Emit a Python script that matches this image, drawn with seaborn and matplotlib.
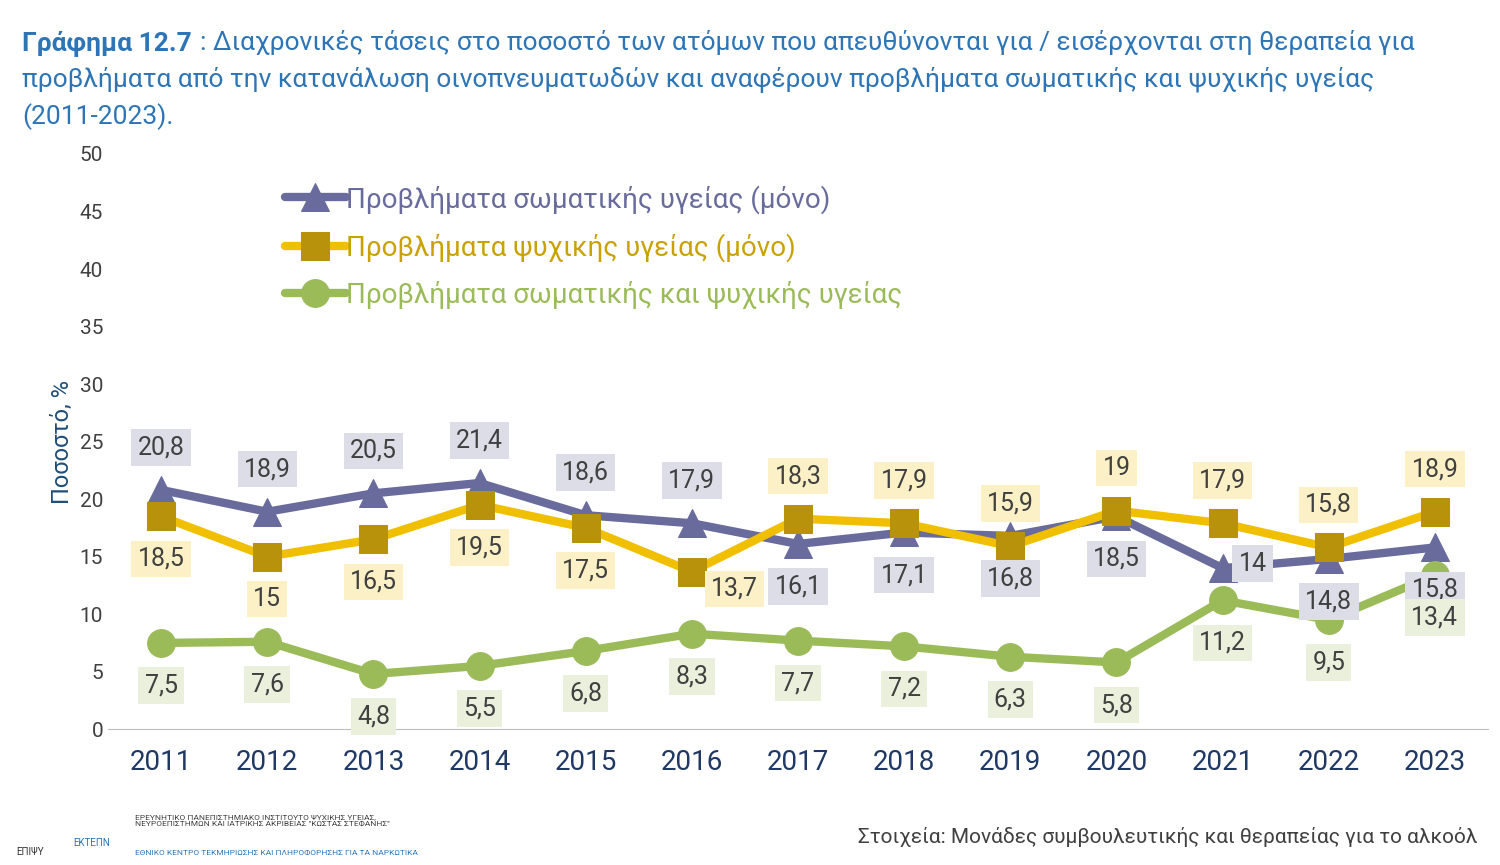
import matplotlib
matplotlib.use('Agg')
import matplotlib.pyplot as plt
import seaborn as sns
import pandas as pd

years = [2011, 2012, 2013, 2014, 2015, 2016, 2017, 2018, 2019, 2020, 2021, 2022, 2023]
physical = [20.8, 18.9, 20.5, 21.4, 18.6, 17.9, 16.1, 17.1, 16.8, 18.5, 14, 14.8, 15.8]
mental = [18.5, 15, 16.5, 19.5, 17.5, 13.7, 18.3, 17.9, 15.9, 19, 17.9, 15.8, 18.9]
both = [7.5, 7.6, 4.8, 5.5, 6.8, 8.3, 7.7, 7.2, 6.3, 5.8, 11.2, 9.5, 13.4]
names = ['Προβλήματα σωματικής υγείας (μόνο)',
         'Προβλήματα ψυχικής υγείας (μόνο)',
         'Προβλήματα σωματικής και ψυχικής υγείας']

sns.set_style('white')
plt.rcParams['font.family'] = ['Roboto', 'DejaVu Sans']

fig = plt.figure(figsize=(15, 8.65), dpi=100)
ax = fig.add_axes([0.072, 0.157, 0.92, 0.665])

x = list(range(len(years)))
series = [
    (physical, '#686b9b', '#686b9b', '^', '#dcdde6'),
    (mental, '#f0c000', '#b8920a', 's', '#fcf1c6'),
    (both, '#9bbb59', '#9bbb59', 'o', '#eaf0dc'),
]
# label placement: 1 above, -1 below, 'r' right of point
phys_pos = [1, 1, 1, 1, 1, 1, -1, -1, -1, -1, 'r', -1, -1]
ment_pos = [-1, -1, -1, -1, -1, 'rb', 1, 1, 1, 1, 1, 1, 1]
both_pos = [-1] * 13
positions = [phys_pos, ment_pos, both_pos]

for (vals, lc, mc, mk, box), name, pos in zip(series, names, positions):
    df = pd.DataFrame({'x': x, 'y': vals})
    sns.lineplot(data=df, x='x', y='y', ax=ax, color=lc, lw=6, marker=mk,
                 markersize=20, markerfacecolor=mc, markeredgecolor=mc, label=name)
    for xi, v, p in zip(x, vals, pos):
        lab = f'{v:g}'.replace('.', ',')
        bb = dict(boxstyle='square,pad=0.25', fc=box, ec='none')
        if p == 'r':
            ax.text(xi + 0.15, v + 0.4, lab, ha='left', va='center', fontsize=18, color='#404040', bbox=bb)
        elif p == 'rb':
            ax.text(xi + 0.4, v - 1.5, lab, ha='center', va='center', fontsize=18, color='#404040', bbox=bb)
        else:
            ax.text(xi, v + 3.7 * p, lab, ha='center', va='center', fontsize=18, color='#404040', bbox=bb)

ax.set_xlim(-0.5, 12.5)
ax.set_ylim(0, 50)
ax.set_yticks(range(0, 51, 5))
ax.set_xticks(x)
ax.set_xticklabels([str(y) for y in years])
ax.tick_params(axis='y', labelsize=15, colors='#404040', length=0)
ax.tick_params(axis='x', labelsize=20, colors='#1f3864', length=0, pad=14)
ax.set_xlabel('')
ax.set_ylabel('Ποσοστό, %', fontsize=17, color='#1f4e79')
for s in ['top', 'right', 'left']:
    ax.spines[s].set_visible(False)
ax.spines['bottom'].set_color('#bfbfbf')

leg = ax.legend(loc='upper left', bbox_to_anchor=(0.11, 0.99), frameon=False,
                fontsize=20, handlelength=2.2, labelspacing=0.7, handletextpad=0.0)
for t, s in zip(leg.get_texts(), series):
    t.set_color(s[1] if s[1] != '#f0c000' else '#c9a200')

fig.text(0.015, 0.965, 'Γράφημα 12.7', fontsize=19, fontweight='bold', color='#2e75b6', va='top')
fig.text(0.133, 0.965, ': Διαχρονικές τάσεις στο ποσοστό των ατόμων που απευθύνονται για / εισέρχονται στη θεραπεία για',
         fontsize=19, color='#2e75b6', va='top')
fig.text(0.015, 0.923, 'προβλήματα από την κατανάλωση οινοπνευματωδών και αναφέρουν προβλήματα σωματικής και ψυχικής υγείας',
         fontsize=19, color='#2e75b6', va='top')
fig.text(0.015, 0.881, '(2011-2023).', fontsize=19, color='#2e75b6', va='top')

fig.text(0.985, 0.025, 'Στοιχεία: Μονάδες συμβουλευτικής και θεραπείας για το αλκοόλ',
         fontsize=15, color='#404040', ha='right')
fig.text(0.09, 0.045, 'ΕΡΕΥΝΗΤΙΚΟ ΠΑΝΕΠΙΣΤΗΜΙΑΚΟ ΙΝΣΤΙΤΟΥΤΟ ΨΥΧΙΚΗΣ ΥΓΕΙΑΣ,\nΝΕΥΡΟΕΠΙΣΤΗΜΩΝ ΚΑΙ ΙΑΤΡΙΚΗΣ ΑΚΡΙΒΕΙΑΣ "ΚΩΣΤΑΣ ΣΤΕΦΑΝΗΣ"',
         fontsize=6, color='#404040')
fig.text(0.09, 0.012, 'ΕΘΝΙΚΟ ΚΕΝΤΡΟ ΤΕΚΜΗΡΙΩΣΗΣ ΚΑΙ ΠΛΗΡΟΦΟΡΗΣΗΣ ΓΙΑ ΤΑ ΝΑΡΚΩΤΙΚΑ',
         fontsize=6, color='#2e75b6')
fig.text(0.02, 0.012, 'ΕΠΙΨΥ', fontsize=7, color='#333333', ha='center')
fig.text(0.061, 0.022, 'ΕΚΤΕΠΝ', fontsize=7, color='#2e75b6', ha='center')

fig.savefig('out.png', dpi=100)
